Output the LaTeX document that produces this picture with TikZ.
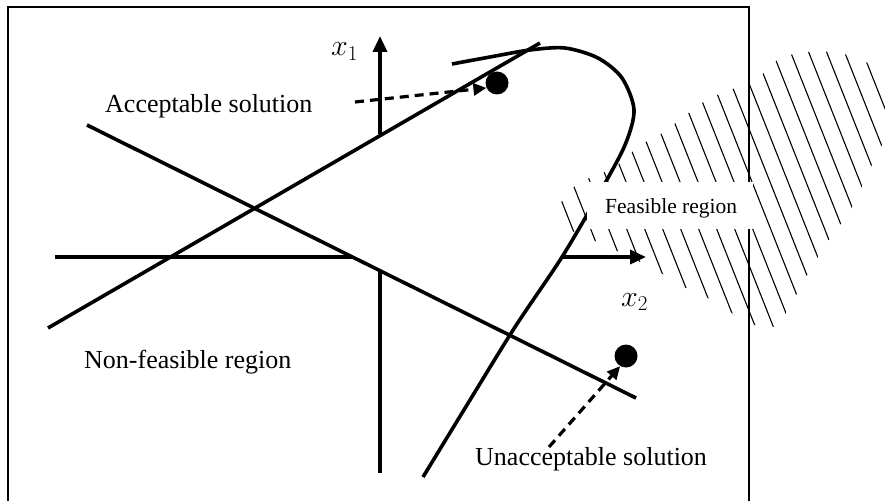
\RequirePackage{fix-cm}
\documentclass[tikz,border=0pt]{standalone}
\usepackage{fontspec}
\setmainfont{Liberation Serif}
\usetikzlibrary{arrows.meta}
\tikzset{
  thickline/.style={line width=3.6pt, line join=round},
  axisarrow/.style={line width=3.6pt, -{Triangle[length=16pt,width=14pt]}},
  dasharrow/.style={line width=3.2pt, dash pattern=on 9pt off 6pt, -{Triangle[length=13pt,width=12pt]}},
  hatchline/.style={line width=1.1pt},
  dotstyle/.style={circle, fill=black, inner sep=0pt, minimum size=23pt},
  lab/.style={anchor=base west, inner sep=0pt, font=\fontsize{26}{28}\selectfont},
  mathlab/.style={anchor=base west, inner sep=0pt, font=\fontsize{30}{32}\selectfont},
}
\begin{document}
\begin{tikzpicture}[x=1pt,y=-1pt]
\useasboundingbox (0,0) rectangle (885,500);
\clip (0,0) rectangle (885,500);
% hatched feasible region
\begin{scope}
  \clip plot[smooth cycle, tension=0.3] coordinates {
    (556,212) (566,195) (580,182) (605,172) (620,163) (640,145) (658,136)
    (682,118) (708,99) (735,88) (757,79) (780,58) (805,52) (833,52)
    (855,57) (875,67) (900,85) (910,110) (895,130) (880,148) (865,180)
    (850,212) (832,235) (810,270) (795,297) (780,323) (765,329) (740,318)
    (708,298) (680,285) (653,268) (627,256) (605,245) (580,235) (562,225)};
  \foreach \x in {410,428,...,920} {
    \draw[hatchline] (\x,0) -- ++(190,480);
  }
\end{scope}
% frame
\draw[line width=2pt] (8,7) rectangle (749,530);
% straight lines
\coordinate (l1a) at (87,125);
\coordinate (l1b) at (636,398);
\draw[thickline] (l1a) -- (l1b);
\coordinate (l2a) at (48,328);
\coordinate (l2b) at (540,43);
\draw[thickline] (l2a) -- (l2b);
% curve
\draw[thickline] plot[smooth, tension=0.5] coordinates {
  (423,477) (470,400) (515,327) (562,257) (600,192) (625,145) (634,110)
  (622,78) (598,58) (565,48) (530,50) (490,57) (452,64)};
% axes
\coordinate (hA) at (55,257);
\coordinate (hB) at (352,257);
\coordinate (hC) at (562,257);
\coordinate (hD) at (646,257);
\draw[thickline] (hA) -- (hB);
\draw[axisarrow] (hC) -- (hD);
\coordinate (vA) at (380,473);
\coordinate (vB) at (380,270);
\coordinate (vC) at (380,134);
\coordinate (vD) at (380,36);
\draw[thickline] (vA) -- (vB);
\draw[axisarrow] (vC) -- (vD);
% white label box
\fill[white] (587,182) rectangle (753,229);
\node[lab, font=\fontsize{21.5}{23}\selectfont] (feas) at (605,213) {Feasible region};
% dots
\node[dotstyle] (dotA) at (497,83) {};
\node[dotstyle] (dotB) at (626,356) {};
\coordinate (sA) at (355,102);
\coordinate (sB) at (549,447);
\draw[dasharrow] (sA) -- (dotA.205);
\draw[dasharrow] (sB) -- (dotB.240);
% labels
\node[lab] (acc) at (105,113) {Acceptable solution};
\node[lab] (nonf) at (84,368) {Non-feasible region};
\node[lab] (unacc) at (475,465) {Unacceptable solution};
\node[mathlab] (x1) at (331,56) {$x_1$};
\node[mathlab] (x2) at (621,306) {$x_2$};
\end{tikzpicture}
\end{document}
